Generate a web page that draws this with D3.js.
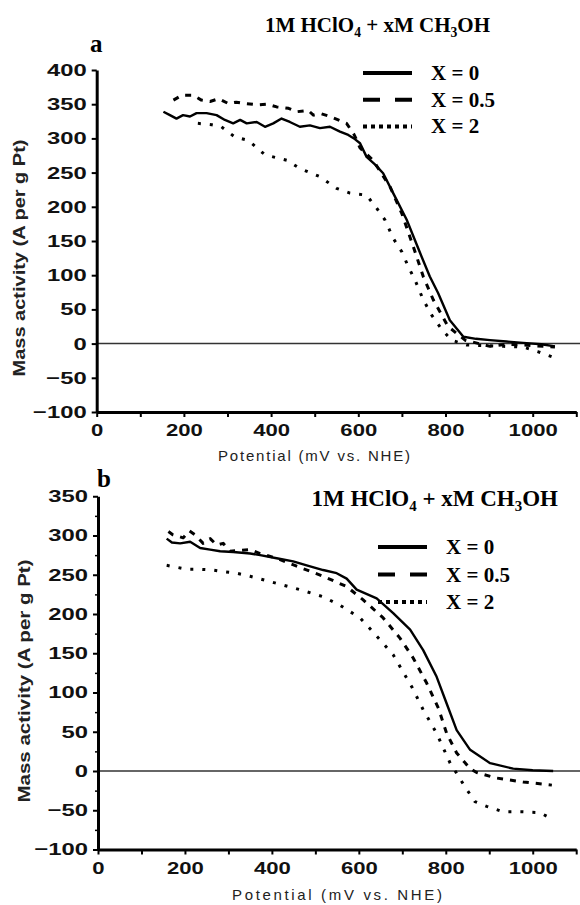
<!DOCTYPE html>
<html>
<head>
<meta charset="utf-8">
<script src="https://cdn.jsdelivr.net/npm/d3@7"></script>
<style>
  body { margin: 0; background: #fff; }
  svg { display: block; }
</style>
</head>
<body>
<div id="chart"></div>
<script>
// panel a: [potential mV, mass activity A/g Pt]
const aX0 = [[153,339],[168,334],[183,329],[198,334],[214,332],[229,337],[252,337],[275,334],[294,327],[313,322],[329,327],[344,322],[367,324],[386,317],[405,322],[424,329],[443,324],[466,317],[489,319],[512,315],[535,317],[558,310],[577,305],[592,299],[604,293],[619,273],[638,262],[657,249],[680,220],[711,181],[742,132],[764,98],[783,74],[810,34],[841,10],[870,7],[902,5],[940,3],[978,1],[1020,-1],[1051,-4]];
const aX05 = [[176,356],[195,363],[222,363],[240,356],[260,354],[280,358],[302,351],[320,353],[340,351],[371,349],[392,350],[413,346],[440,344],[459,339],[485,341],[497,334],[515,336],[535,332],[573,322],[590,306],[596,298],[604,286],[634,268],[673,229],[700,190],[726,142],[749,98],[772,64],[806,25],[845,5],[902,-4],[940,-1],[978,-2],[1051,-5]];
const aX2 = [[232,322],[264,320],[286,317],[317,302],[348,297],[355,293],[386,276],[436,268],[466,256],[512,244],[550,227],[581,220],[619,217],[642,198],[661,181],[680,154],[700,134],[715,112],[730,93],[749,64],[768,42],[791,21],[814,5],[849,-2],[933,-4],[978,-5],[1013,-12],[1051,-21]];

// panel b
const bX0 = [[158,296],[170,291],[189,290],[212,292],[235,284],[258,282],[281,280],[311,279],[350,277],[373,275],[411,271],[449,267],[480,262],[518,256],[549,252],[572,245],[595,231],[641,220],[679,201],[718,180],[748,154],[779,120],[802,86],[825,52],[856,27],[902,10],[955,3],[1000,1],[1047,0]];
const bX05 = [[162,305],[172,301],[196,297],[210,306],[223,301],[242,290],[258,296],[273,288],[288,290],[304,280],[350,282],[373,277],[411,271],[457,261],[518,248],[572,235],[610,218],[656,195],[695,169],[725,144],[756,112],[783,80],[802,48],[825,23],[856,3],[871,-2],[917,-9],[978,-14],[1044,-18]];
const bX2 = [[158,262],[204,257],[235,257],[265,256],[288,254],[319,252],[350,248],[411,239],[465,231],[518,222],[557,211],[603,195],[649,167],[679,148],[722,107],[748,78],[779,48],[810,10],[825,-3],[844,-20],[867,-39],[894,-45],[932,-52],[978,-52],[1016,-53],[1048,-62]];

const xTicks = [0,100,200,300,400,500,600,700,800,900,1000,1100];
const xLabels = [0,200,400,600,800,1000];
const aYTicks = [-100,-50,0,50,100,150,200,250,300,350,400];
const bYTicks = [-100,-50,0,50,100,150,200,250,300,350];
const bYMinor = [-75,-25,25,75,125,175,225,275,325];
const seriesNames = ["X = 0", "X = 0.5", "X = 2"];

const W = 580, H = 905;
const svg = d3.select("#chart").append("svg").attr("width", W).attr("height", H);

const styles = [
  { dash: null, w: 2.4 },
  { dash: "6,7", w: 3 },
  { dash: "3,9", w: 3 }
];
const legendDash = [null, "17,15", "4,4"];

function stretch(sel, k) {
  sel.each(function() {
    const len = this.getComputedTextLength();
    d3.select(this).attr("textLength", len * k).attr("lengthAdjust", "spacingAndGlyphs");
  });
}

function panel(cfg) {
  const x = d3.scaleLinear().domain([0, 1100]).range([cfg.left, cfg.right]);
  const y = d3.scaleLinear().domain(cfg.yDomain).range([cfg.bottom, cfg.top]);
  const g = svg.append("g");

  // zero line
  g.append("line")
    .attr("x1", x(0)).attr("x2", W)
    .attr("y1", y(0)).attr("y2", y(0))
    .attr("stroke", "#333").attr("stroke-width", 1.5);

  const line = d3.line().x(d => x(d[0])).y(d => y(d[1]));
  cfg.series.forEach((s, i) => {
    g.append("path")
      .datum(s)
      .attr("d", line)
      .attr("fill", "none")
      .attr("stroke", "#000")
      .attr("stroke-width", styles[i].w)
      .attr("stroke-linejoin", "round")
      .attr("stroke-dasharray", styles[i].dash);
  });

  // x axis
  const xa = g.append("g")
    .attr("transform", `translate(0,${cfg.bottom})`)
    .call(d3.axisBottom(x).tickValues(xTicks).tickSize(5).tickSizeOuter(0)
      .tickFormat(d => xLabels.includes(d) ? d : ""));
  // y axis
  const ya = g.append("g")
    .attr("transform", `translate(${cfg.left},0)`)
    .call(d3.axisLeft(y).tickValues(cfg.yTicks).tickSize(5).tickSizeOuter(0));
  if (cfg.yMinor) {
    g.append("g")
      .attr("transform", `translate(${cfg.left},0)`)
      .call(d3.axisLeft(y).tickValues(cfg.yMinor).tickSize(3).tickFormat(""))
      .call(a => a.select(".domain").remove())
      .selectAll("line").attr("stroke-width", 1.5);
  }
  [xa, ya].forEach(a => {
    a.select(".domain").attr("stroke-width", 3).attr("stroke", "#000");
    a.selectAll(".tick line").attr("stroke-width", 2);
    a.selectAll("text")
      .attr("font-family", "Liberation Sans, Arial, sans-serif")
      .attr("font-weight", "bold")
      .attr("font-size", 17)
      .attr("fill", "#111");
  });
  xa.selectAll("text").attr("dy", "0.95em");
  ya.selectAll("text").attr("x", -10);
  stretch(xa.selectAll("text").filter(d => xLabels.includes(d)), 1.3);
  stretch(ya.selectAll("text"), 1.4);

  // axis titles
  svg.append("text")
    .attr("x", cfg.xLabel[0]).attr("y", cfg.xLabel[1])
    .attr("text-anchor", "middle")
    .attr("font-family", "Liberation Sans, Arial, sans-serif")
    .attr("font-size", 15)
    .attr("fill", "#222")
    .attr("textLength", cfg.xLabel[2]).attr("lengthAdjust", "spacing")
    .text("Potential (mV vs. NHE)");
  svg.append("text")
    .attr("transform", `translate(${cfg.yLabel[0]},${cfg.yLabel[1]}) rotate(-90)`)
    .attr("text-anchor", "middle")
    .attr("font-family", "Liberation Sans, Arial, sans-serif")
    .attr("font-weight", "bold")
    .attr("font-size", 16)
    .attr("fill", "#222")
    .attr("textLength", cfg.yLabel[2]).attr("lengthAdjust", "spacingAndGlyphs")
    .text("Mass activity (A per g Pt)");

  // panel letter
  svg.append("text")
    .attr("x", cfg.letter[0]).attr("y", cfg.letter[1])
    .attr("font-family", "Liberation Serif, Times New Roman, serif")
    .attr("font-weight", "bold").attr("font-size", 25)
    .text(cfg.letter[2]);

  // title with subscripts
  const t = svg.append("text")
    .attr("x", cfg.title[0]).attr("y", cfg.title[1])
    .attr("text-anchor", "end")
    .attr("font-family", "Liberation Serif, Times New Roman, serif")
    .attr("font-weight", "bold").attr("font-size", cfg.title[2]);
  const parts = [["1M HClO", false], ["4", true], [" + xM CH", false], ["3", true], ["OH", false]];
  parts.forEach(p => {
    const ts = t.append("tspan").text(p[0]);
    if (p[1]) ts.attr("font-size", cfg.title[2] * 0.65).attr("dy", cfg.title[2] * 0.22);
    else if (p !== parts[0]) ts.attr("dy", -cfg.title[2] * 0.22);
  });

  // legend
  seriesNames.forEach((name, i) => {
    const ly = cfg.legend[1] + i * cfg.legend[2];
    svg.append("line")
      .attr("x1", cfg.legend[0]).attr("x2", cfg.legend[0] + 49)
      .attr("y1", ly).attr("y2", ly)
      .attr("stroke", "#000").attr("stroke-width", 4)
      .attr("stroke-dasharray", legendDash[i]);
    svg.append("text")
      .attr("x", cfg.legend[0] + 68).attr("y", ly + 7)
      .attr("font-family", "Liberation Serif, Times New Roman, serif")
      .attr("font-weight", "bold").attr("font-size", 21)
      .text(name);
  });
}

panel({
  left: 96.7, right: 576.3, top: 70, bottom: 412,
  yDomain: [-100, 400], yTicks: aYTicks,
  series: [aX0, aX05, aX2],
  xLabel: [314, 461, 192], yLabel: [25, 258, 237],
  letter: [90, 52, "a"], title: [490, 32, 21],
  legend: [363, 73, 26.7]
});

panel({
  left: 98, right: 576.2, top: 496.25, bottom: 849.5,
  yDomain: [-100, 350], yTicks: bYTicks, yMinor: bYMinor,
  series: [bX0, bX05, bX2],
  xLabel: [337, 900, 210], yLabel: [30, 681, 243],
  letter: [97, 487, "b"], title: [558, 506, 23],
  legend: [378, 547, 27.5]
});
</script>
</body>
</html>
